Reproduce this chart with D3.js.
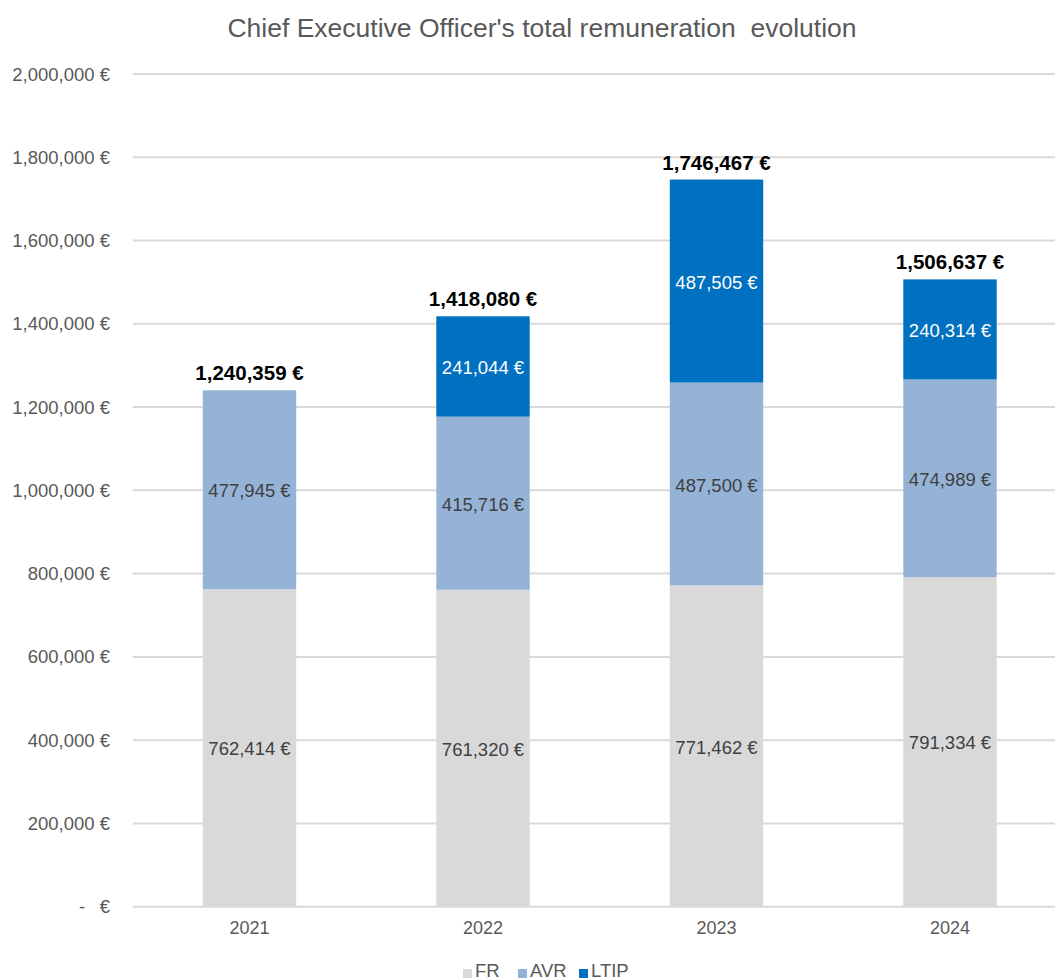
<!DOCTYPE html>
<html>
<head>
<meta charset="utf-8">
<script src="https://cdn.jsdelivr.net/npm/d3@7"></script>
<style>
  html, body { margin: 0; padding: 0; background: #fff; }
  svg { display: block; font-family: "Liberation Sans", Arial, sans-serif; }
</style>
</head>
<body>
<svg id="chart" width="1055" height="980"></svg>
<script>
// Remuneration components per year (EUR)
const years = ["2021", "2022", "2023", "2024"];
const seriesNames = ["FR", "AVR", "LTIP"];
const fr   = [762414, 761320, 771462, 791334];
const avr  = [477945, 415716, 487500, 474989];
const ltip = [0, 241044, 487505, 240314];
const totals = [1240359, 1418080, 1746467, 1506637];
const yTicks = [0, 200000, 400000, 600000, 800000, 1000000, 1200000, 1400000, 1600000, 1800000, 2000000];
const colors = ["#d9d9d9", "#95b3d7", "#0070c0"];
const labelColors = ["#404040", "#404040", "#ffffff"];

const svg = d3.select("#chart");
const W = 1055, H = 980;
const margin = { left: 132.75, right: -11.75, top: 74, bottom: 73.3 };

const x = d3.scaleBand()
  .domain(years)
  .range([margin.left, W - margin.right])
  .paddingInner(0.6)
  .paddingOuter(0.3);

const y = d3.scaleLinear()
  .domain([0, 2000000])
  .range([H - margin.bottom, margin.top]);

const fmt = d3.format(",");

// Title
svg.append("text")
  .attr("x", 542).attr("y", 37)
  .attr("text-anchor", "middle")
  .attr("font-size", 26.5)
  .attr("fill", "#595959")
  .attr("xml:space", "preserve")
  .style("white-space", "pre")
  .text("Chief Executive Officer's total remuneration  evolution");

// Gridlines
svg.append("g")
  .selectAll("line")
  .data(yTicks)
  .join("line")
  .attr("x1", margin.left).attr("x2", W)
  .attr("y1", d => y(d)).attr("y2", d => y(d))
  .attr("stroke", "#d9d9d9")
  .attr("stroke-width", 2);

// Y axis labels
const yLab = svg.append("g")
  .attr("font-size", 18.5)
  .attr("fill", "#595959");
yTicks.forEach(t => {
  if (t === 0) {
    yLab.append("text")
      .attr("x", 82).attr("y", y(t) + 6.5)
      .attr("text-anchor", "middle")
      .text("-");
    yLab.append("text")
      .attr("x", 110).attr("y", y(t) + 6.5)
      .attr("text-anchor", "end")
      .text("€");
  } else {
    yLab.append("text")
      .attr("x", 110).attr("y", y(t) + 6.5)
      .attr("text-anchor", "end")
      .text(fmt(t) + " €");
  }
});

// Stacked bars
const rows = years.map((yr, i) => ({ year: yr, FR: fr[i], AVR: avr[i], LTIP: ltip[i] }));
const stack = d3.stack().keys(seriesNames)(rows);

stack.forEach((layer, si) => {
  const g = svg.append("g");
  const segs = layer.filter(d => d[1] - d[0] > 0);
  g.selectAll("rect")
    .data(segs)
    .join("rect")
    .attr("x", d => x(d.data.year))
    .attr("width", x.bandwidth())
    .attr("y", d => y(d[1]))
    .attr("height", d => y(d[0]) - y(d[1]))
    .attr("fill", colors[si]);
  g.selectAll("text")
    .data(segs)
    .join("text")
    .attr("x", d => x(d.data.year) + x.bandwidth() / 2)
    .attr("y", d => y((d[0] + d[1]) / 2) + 7.5)
    .attr("text-anchor", "middle")
    .attr("font-size", 18.5)
    .attr("fill", labelColors[si])
    .text(d => fmt(d[1] - d[0]) + " €");
});

// Totals above bars
svg.append("g")
  .selectAll("text")
  .data(years)
  .join("text")
  .attr("x", d => x(d) + x.bandwidth() / 2)
  .attr("y", (d, i) => y(totals[i]) - 10)
  .attr("text-anchor", "middle")
  .attr("font-size", 20.5)
  .attr("font-weight", "bold")
  .attr("fill", "#000")
  .text((d, i) => fmt(totals[i]) + " €");

// X axis labels
svg.append("g")
  .selectAll("text")
  .data(years)
  .join("text")
  .attr("x", d => x(d) + x.bandwidth() / 2)
  .attr("y", y(0) + 27)
  .attr("text-anchor", "middle")
  .attr("font-size", 18)
  .attr("fill", "#595959")
  .text(d => d);

// Legend
const legendX = [463, 518, 579];
const legend = svg.append("g");
seriesNames.forEach((name, i) => {
  legend.append("rect")
    .attr("x", legendX[i]).attr("y", 969)
    .attr("width", 9).attr("height", 9)
    .attr("fill", colors[i]);
  legend.append("text")
    .attr("x", legendX[i] + 12).attr("y", 977)
    .attr("font-size", 18.5)
    .attr("fill", "#595959")
    .text(name);
});
</script>
</body>
</html>
